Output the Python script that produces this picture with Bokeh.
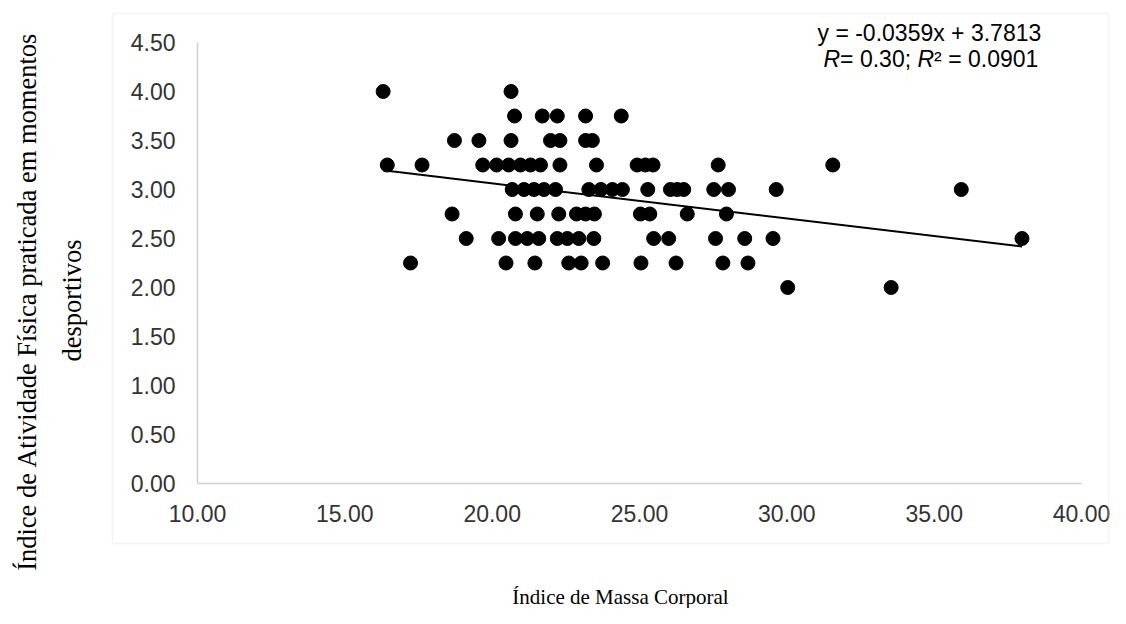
import math
from bokeh.plotting import figure
from bokeh.models import Range1d, LinearAxis, FixedTicker, PrintfTickFormatter, Label, BoxAnnotation
from bokeh.embed import file_html
from bokeh.resources import INLINE

# ---- data: IMC (x) per level of activity index (y) ----
row_levels = [4.00, 3.75, 3.50, 3.25, 3.00, 2.75, 2.50, 2.25, 2.00]
imc_400 = [16.30, 20.64]
imc_375 = [20.76, 21.70, 22.21, 23.17, 24.38]
imc_350 = [18.72, 19.55, 20.64, 21.98, 22.30, 23.17, 23.40]
imc_325 = [16.44, 17.62, 19.68, 20.15, 20.56, 20.96, 21.30, 21.64, 22.30, 23.54,
           24.92, 25.20, 25.46, 27.67, 31.56]
imc_300 = [20.68, 21.08, 21.42, 21.76, 22.15, 23.28, 23.69, 24.08, 24.42, 25.28,
           26.05, 26.28, 26.50, 27.52, 28.02, 29.64, 35.92]
imc_275 = [18.64, 20.79, 21.53, 22.26, 22.86, 23.17, 23.47, 25.03, 25.35, 26.62, 27.95]
imc_250 = [19.12, 20.22, 20.79, 21.19, 21.58, 22.21, 22.55, 22.94, 23.45, 25.48,
           25.99, 27.58, 28.57, 29.53, 37.98]
imc_225 = [17.23, 20.47, 21.45, 22.60, 23.02, 23.75, 25.05, 26.24, 27.83, 28.68]
imc_200 = [30.03, 33.54]
rows = [imc_400, imc_375, imc_350, imc_325, imc_300, imc_275, imc_250, imc_225, imc_200]

trend_slope = -0.0359
trend_intercept = 3.7813

x_ticks = [10, 15, 20, 25, 30, 35, 40]
y_ticks = [0, 0.5, 1.0, 1.5, 2.0, 2.5, 3.0, 3.5, 4.0, 4.5]

eq_line1 = "y = -0.0359x + 3.7813"
x_title = "Índice de Massa Corporal"
y_title_1 = "Índice de Atividade Física praticada em momentos"
y_title_2 = "desportivos"

xs, ys = [], []
for lvl, r in zip(row_levels, rows):
    xs += r
    ys += [lvl] * len(r)

# ---- layout helpers (pixel -> data position for decorations) ----
W, H = 1110, 608
X0_PX, X_PER = 197.0, 29.467   # x=10 at 197 px
Y0_PX, Y_PER = 483.0, 98.0     # y=0 at 483 px


def X(px):
    return 10 + (px - X0_PX) / X_PER


def Y(py):
    return (Y0_PX - py) / Y_PER


p = figure(width=W, height=H,
           x_range=Range1d(X(0), X(W)), y_range=Range1d(Y(H), Y(0)),
           output_backend="svg", toolbar_location=None,
           x_axis_location=None, y_axis_location=None,
           min_border=0, min_border_left=0, min_border_right=0,
           min_border_top=0, min_border_bottom=0)
p.outline_line_color = None
p.background_fill_color = "white"
p.border_fill_color = "white"
p.grid.grid_line_color = None
p.grid.visible = False

# chart-area border
p.add_layout(BoxAnnotation(left=X(112), right=X(1108), bottom=Y(543), top=Y(13),
                           fill_color=None, line_color="#d9d9d9", line_width=1.5))

tick_font = "Liberation Sans"
tick_color = "#333333"

xaxis = LinearAxis(fixed_location=0, bounds=(10, 40),
                   ticker=FixedTicker(ticks=x_ticks),
                   formatter=PrintfTickFormatter(format="%.2f"))
yaxis = LinearAxis(fixed_location=10, bounds=(0, 4.5),
                   ticker=FixedTicker(ticks=y_ticks),
                   formatter=PrintfTickFormatter(format="%.2f"))
for ax in (xaxis, yaxis):
    ax.axis_line_color = "#d0d0d0"
    ax.axis_line_width = 1.5
    ax.major_tick_line_color = None
    ax.minor_tick_line_color = None
    ax.major_label_text_font = tick_font
    ax.major_label_text_font_size = "23px"
    ax.major_label_text_color = tick_color
xaxis.major_label_standoff = 15
yaxis.major_label_standoff = 16
p.add_layout(xaxis, "below")
p.add_layout(yaxis, "left")

p.scatter(xs, ys, size=14, color="black")

xmin, xmax = min(xs), max(xs)
p.line([xmin, xmax], [trend_slope * xmin + trend_intercept, trend_slope * xmax + trend_intercept],
       line_color="black", line_width=2)

# ---- equation text ----
p.add_layout(Label(x=X(817), y=Y(32), text=eq_line1, text_font=tick_font, text_font_size="23px",
                   text_color="black", text_align="left", text_baseline="middle"))
parts = [("R", "italic", 0), ("= 0.30; ", "normal", 16.6), ("R", "italic", 94.0),
         ("\u00b2 = 0.0901", "normal", 110.6)]
for txt, style, off in parts:
    p.add_layout(Label(x=X(823), y=Y(58), x_offset=off, text=txt, text_font=tick_font,
                       text_font_size="23px", text_font_style=style, text_color="black",
                       text_align="left", text_baseline="middle"))

# ---- axis titles ----
serif = "Liberation Serif"
p.add_layout(Label(x=X(620), y=Y(596), text=x_title, text_font=serif, text_font_size="21px",
                   text_color="black", text_align="center", text_baseline="middle"))
p.add_layout(Label(x=X(26), y=Y(301), text=y_title_1, text_font=serif, text_font_size="26.5px",
                   text_color="black", text_align="center", text_baseline="middle", angle=math.pi / 2))
p.add_layout(Label(x=X(71), y=Y(300), text=y_title_2, text_font=serif, text_font_size="26.5px",
                   text_color="black", text_align="center", text_baseline="middle", angle=math.pi / 2))

open("out.html", "w").write(file_html(p, INLINE))
